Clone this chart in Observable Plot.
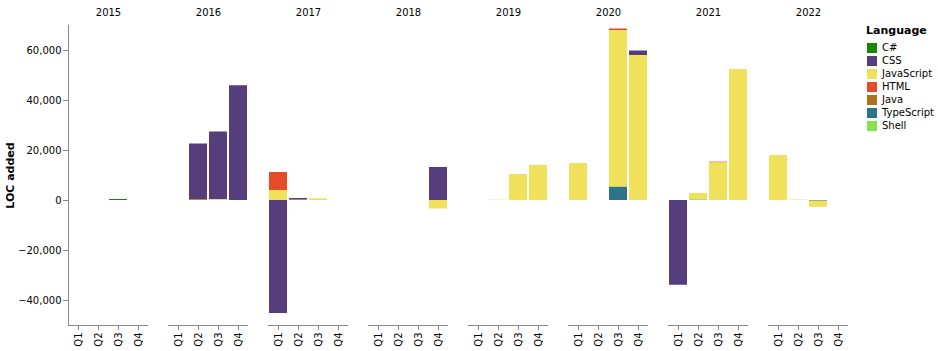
<!DOCTYPE html>
<html>
<head>
<meta charset="utf-8">
<script src="https://cdn.jsdelivr.net/npm/d3@7"></script>
<script src="https://cdn.jsdelivr.net/npm/@observablehq/plot@0.6"></script>
<style>
  body { margin: 0; background: #fff; font-family: "DejaVu Sans", sans-serif; }
  #wrap { position: relative; width: 938px; height: 351px; }
  #legend { position: absolute; left: 866px; top: 24px; font-size: 10px; color: #000; }
  #legend .title { font-weight: bold; font-size: 11px; margin-bottom: 4px; }
  #legend .item { display: flex; align-items: center; height: 13px; }
  #legend .sw { width: 10px; height: 10px; margin-right: 5px; margin-left: 1px; }
  g[aria-label="y-axis label"] text { font-weight: bold; font-size: 11px; }
</style>
</head>
<body>
<div id="wrap"></div>
<script>
const years = [2015, 2016, 2017, 2018, 2019, 2020, 2021, 2022];
const quarters = ["Q1", "Q2", "Q3", "Q4"];
const languages = ["C#", "CSS", "JavaScript", "HTML", "Java", "TypeScript", "Shell"];
const colors = ["#178600", "#563d7c", "#f1e05a", "#e34c26", "#b07219", "#2b7489", "#89e051"];
const stackOrder = ["TypeScript", "Shell", "JavaScript", "Java", "HTML", "CSS", "C#"];
const yTicks = [-40000, -20000, 0, 20000, 40000, 60000];
const yDomain = [-50000, 70000];

// LOC added per quarter: 2015 Q1..Q4, 2016 Q1..Q4, ..., 2022 Q1..Q4
const locCSharp = [
  0, 0, 400, 0,
  0, 0, 0, 0,
  0, 0, 0, 0,
  0, 0, 0, 0,
  0, 0, 0, 0,
  0, 0, 0, 0,
  0, 0, 0, 0,
  0, 0, 0, 0];
const locCSS = [
  0, 0, 0, 0,
  0, 22300, 27100, 45900,
  -45200, 600, 0, 0,
  0, 0, 0, 13200,
  0, 0, 0, 0,
  0, 0, 0, 1800,
  -33900, 0, 0, 0,
  0, 0, 0, 0];
const locJavaScript = [
  0, 0, 0, 0,
  0, 0, 300, 0,
  4000, 0, 700, 0,
  0, 0, 0, -3400,
  0, 150, 10400, 14000,
  14800, 0, 62700, 58000,
  0, 2500, 15000, 52400,
  18000, 200, -2500, 0];
const locHTML = [
  0, 0, 0, 0,
  0, 0, 0, 0,
  7200, 200, 0, 0,
  0, 0, 0, 0,
  0, 0, 0, 0,
  0, 0, 600, 0,
  0, 0, 200, 0,
  0, 0, 0, 0];
const locJava = [
  0, 0, 0, 0,
  0, 300, 0, 0,
  0, 0, 0, 0,
  0, 0, 0, 0,
  0, 0, 0, 0,
  0, 0, 0, 0,
  0, 0, 0, 0,
  0, 0, 0, 0];
const locTypeScript = [
  0, 0, 0, 0,
  0, 0, 0, 0,
  0, 0, 0, 0,
  0, 0, 0, 0,
  0, 0, 0, 0,
  0, 0, 5300, 0,
  0, 0, 0, 0,
  0, 0, -200, 0];
const locShell = [
  0, 0, 0, 0,
  0, 0, 0, 0,
  0, 0, 0, 0,
  0, 0, 0, 0,
  0, 0, 0, 0,
  0, 0, 0, 0,
  0, 300, 150, 0,
  0, 0, 0, 0];

const series = [locCSharp, locCSS, locJavaScript, locHTML, locJava, locTypeScript, locShell];
const data = [];
languages.forEach((lang, li) => {
  series[li].forEach((v, i) => {
    if (v !== 0) data.push({
      lang,
      year: years[Math.floor(i / 4)],
      quarter: quarters[i % 4],
      loc: v
    });
  });
});

const chart = Plot.plot({
  width: 938,
  height: 351,
  marginLeft: 68,
  marginRight: 90,
  marginTop: 25,
  marginBottom: 26,
  style: { fontFamily: "DejaVu Sans", fontSize: "10px", color: "#000", background: "#fff" },
  fx: { domain: years, paddingInner: 0.2, paddingOuter: 0 },
  x: { domain: quarters, paddingInner: 0.1, paddingOuter: 0.05 },
  y: { domain: yDomain },
  color: { domain: languages, range: colors },
  marks: [
    Plot.barY(data, { fx: "year", x: "quarter", y: "loc", fill: "lang", order: stackOrder }),
    Plot.ruleY([yDomain[0]], { stroke: "#888" }),
    Plot.frame({ anchor: "left", facetAnchor: "left", stroke: "#888" }),
    Plot.axisFx({ anchor: "top", tickSize: 0, tickPadding: 10, label: null, tickFormat: d => String(d) }),
    Plot.axisX({ tickRotate: -90, tickSize: 5, tickPadding: 2, label: null, stroke: "#888" }),
    Plot.axisY({
      ticks: yTicks, tickSize: 5, tickPadding: 2, stroke: "#888",
      tickFormat: d3.format(","),
      label: "LOC added", labelAnchor: "center", labelArrow: "none", labelOffset: 62
    })
  ]
});

const wrap = document.getElementById("wrap");
wrap.appendChild(chart);

const legend = document.createElement("div");
legend.id = "legend";
const title = document.createElement("div");
title.className = "title";
title.textContent = "Language";
legend.appendChild(title);
languages.forEach((lang, i) => {
  const item = document.createElement("div");
  item.className = "item";
  const sw = document.createElement("div");
  sw.className = "sw";
  sw.style.background = colors[i];
  const lab = document.createElement("span");
  lab.textContent = lang;
  item.appendChild(sw);
  item.appendChild(lab);
  legend.appendChild(item);
});
wrap.appendChild(legend);
</script>
</body>
</html>
